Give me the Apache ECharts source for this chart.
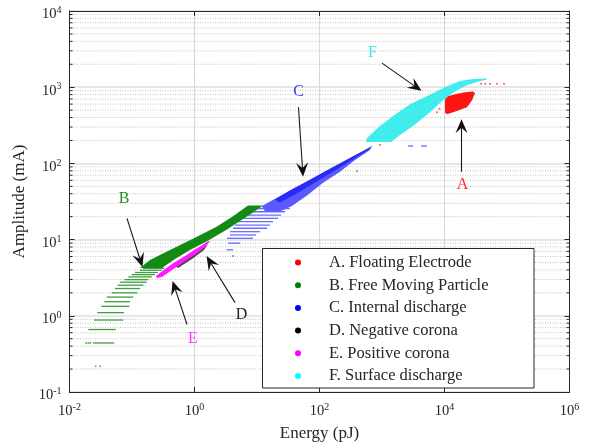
<!DOCTYPE html>
<html>
<head>
<meta charset="utf-8">
<script src="https://cdn.jsdelivr.net/npm/echarts@6/dist/echarts.min.js"></script>
<style>
  html, body { margin: 0; padding: 0; background: #ffffff; }
  #chart { width: 589px; height: 447px; }
</style>
</head>
<body>
<div id="chart"></div>
<script>
// ---- categories ----
const seriesNames = [
  'A. Floating Electrode',
  'B. Free Moving Particle',
  'C. Internal discharge',
  'D. Negative corona',
  'E. Positive corona',
  'F. Surface discharge'
];

// ---- axis ticks ----
const energyTicks = [1e-2, 1e0, 1e2, 1e4, 1e6];          // pJ
const amplitudeTicks = [1e-1, 1e0, 1e1, 1e2, 1e3, 1e4];  // mA
const amplitudeMinor = [
  0.2, 0.3, 0.4, 0.5, 0.6, 0.7, 0.8, 0.9,
  2, 3, 4, 5, 6, 7, 8, 9,
  20, 30, 40, 50, 60, 70, 80, 90,
  200, 300, 400, 500, 600, 700, 800, 900,
  2000, 3000, 4000, 5000, 6000, 7000, 8000, 9000
];

// ---- A. Floating electrode: dense cloud outline [energy, amplitude] + stray pulses ----
const floatingCloud = [
  [10190, 694], [10190, 470], [10960, 442], [15280, 484], [22910, 546], [27540, 673],
  [30760, 830], [28580, 881], [21280, 856], [14720, 806], [11380, 759]
];
const floatingStray = [
  [38400, 1110], [45000, 1110], [53500, 1110], [69000, 1110], [89500, 1110],
  [400, 79], [929, 176], [7590, 470], [8300, 520]
];

// ---- B. Free moving particle: quantised pulses [energyLow, amplitude, energyHigh] ----
const particleRows = [
  [0.0238, 0.44, 0.0521],
  [0.0200, 0.66, 0.0548],
  [0.0247, 0.88, 0.0726],
  [0.0279, 1.10, 0.0745],
  [0.0323, 1.33, 0.0906],
  [0.0361, 1.53, 0.0929],
  [0.0394, 1.76, 0.105],
  [0.0473, 2.00, 0.122],
  [0.0535, 2.28, 0.134],
  [0.0590, 2.52, 0.152],
  [0.0643, 2.76, 0.172],
  [0.0754, 2.98, 0.182],
  [0.0873, 3.24, 0.207],
  [0.0989, 3.47, 0.233],
  [0.112, 3.70, 0.260],
  [0.134, 3.96, 0.300],
  [0.150, 4.20, 0.330]
];
const particleBand = [
  [0.134, 4.25], [0.194, 5.39], [0.436, 7.50], [0.98, 10.4], [2.29, 14.9], [4.13, 20.2],
  [7.18, 28.0], [12.5, 28.0], [7.73, 21.4], [3.31, 13.6], [1.58, 9.49], [0.847, 7.28],
  [0.488, 5.56], [0.302, 4.25]
];
const particleSparse = [
  [0.0262, 0.218], [0.0310, 0.218], [0.0184, 0.44], [0.0200, 0.44], [0.0216, 0.44]
];

// ---- C. Internal discharge ----
const internalRows = [
  [3.28, 7.35, 4.18],
  [3.44, 8.98, 5.35],
  [3.31, 10.4, 8.63],
  [3.70, 11.5, 9.64],
  [3.70, 12.7, 11.2],
  [4.13, 14.1, 14.5],
  [4.45, 15.5, 16.1],
  [4.97, 17.2, 18.0],
  [5.75, 19.0, 21.7],
  [6.92, 21.0, 24.2],
  [7.73, 23.2, 28.1],
  [10.0, 25.6, 33.7],
  [2606, 169, 3133],
  [4207, 169, 5248]
];
const internalBand = [
  [12.0, 27.6], [33.7, 44.0], [70.5, 61.1], [147, 85.1], [308, 118], [535, 150], [692, 169],
  [643, 150], [370, 111], [213, 77.8], [114, 55.9], [63.1, 37.9], [36.3, 27.6], [23.3, 23.4],
  [13.4, 23.4]
];
const internalCore = [
  [19.4, 33.6], [33.7, 44.0], [70.5, 61.1], [147, 85.1], [308, 118], [535, 150], [692, 169],
  [597, 150], [331, 111], [164, 77.8], [78.7, 54.2], [40.6, 39.0], [23.3, 30.7]
];
const internalSparse = [[4.13, 6.1]];

// ---- D. Negative corona ----
const negativeBand = [
  [0.488, 4.51], [0.847, 5.90], [1.37, 7.73], [1.64, 8.71], [1.42, 7.28], [0.912, 5.56], [0.545, 4.25]
];

// ---- E. Positive corona ----
const positiveBand = [
  [0.242, 3.34], [0.337, 4.12], [0.488, 5.08], [0.705, 6.08], [0.982, 7.28], [1.32, 8.46],
  [1.64, 9.53], [1.77, 9.53], [1.47, 7.96], [1.06, 6.46], [0.705, 5.23], [0.437, 4.00],
  [0.302, 3.24], [0.251, 3.14]
];

// ---- F. Surface discharge ----
const surfaceBand = [
  [555, 191], [575, 215], [929, 309], [1500, 420], [2805, 597], [5190, 759], [10840, 1024],
  [17700, 1208], [28600, 1283], [47900, 1302], [47900, 1263], [30800, 1155], [22100, 1055],
  [14700, 881], [9460, 673], [5860, 470], [3130, 309], [1940, 236], [1390, 191]
];

// ---- letter call-outs: label position, arrow tail, arrow tip [energy, amplitude] ----
const calloutLetters = ['A', 'B', 'C', 'D', 'E', 'F'];
const calloutLabelAt = [[19410, 51.9], [0.0745, 34.6], [46.1, 868], [5.65, 1.04], [0.946, 0.505], [705, 2840]];
const calloutTail = [[18710, 77.8], [0.0832, 19.0], [46.1, 546], [4.45, 1.49], [0.759, 0.768], [1000, 2072]];
const calloutTip = [[18710, 381], [0.147, 4.37], [54.5, 66.9], [1.56, 6.08], [0.445, 2.87], [4285, 895]];

// ---- styling ----
const FONT = '"Liberation Serif", "Times New Roman", Times, serif';
const INK = '#262626';
const legendDot = ['#ff0000', '#008000', '#0000ff', '#000000', '#ff00ff', '#00ffff'];
const calloutColor = ['#ff2a2a', '#1f8f1f', '#3a3aff', '#222222', '#ff3aff', '#3fe6e6'];

const E_MIN = 1e-2, E_MAX = 1e6, A_MIN = 1e-1, A_MAX = 1e4;

function powLabel(v) {
  const e = Math.round(Math.log10(v));
  return '{b|10}{s|' + e + '}';
}
const richPow = {
  b: { fontFamily: FONT, fontSize: 14.5, color: INK, lineHeight: 18 },
  s: { fontFamily: FONT, fontSize: 10, color: INK, lineHeight: 10, verticalAlign: 'top' }
};

function polygonSeries(name, pts, color, z, opacity) {
  return {
    type: 'custom', name: name, z: z, silent: true,
    data: pts, encode: { x: 0, y: 1 },
    renderItem: function (params, api) {
      if (params.dataIndex !== 0) return null;
      return {
        type: 'polygon',
        shape: { points: pts.map(function (p) { return api.coord(p); }) },
        style: { fill: color, opacity: opacity == null ? 1 : opacity }
      };
    }
  };
}

function stripeSeries(name, rows, color, width, z) {
  return {
    type: 'custom', name: name, z: z, silent: true,
    data: rows, encode: { x: [0, 2], y: 1 },
    renderItem: function (params, api) {
      const a = api.coord([api.value(0), api.value(1)]);
      const b = api.coord([api.value(2), api.value(1)]);
      return {
        type: 'line',
        shape: { x1: a[0], y1: a[1], x2: b[0], y2: b[1] },
        style: { stroke: color, lineWidth: width }
      };
    }
  };
}

function dotSeries(name, pts, color, z) {
  return {
    type: 'scatter', name: name, z: z, silent: true, data: pts,
    symbolSize: 2, itemStyle: { color: color }
  };
}

const minorGrid = {
  type: 'custom', name: 'minor-grid', z: 1, silent: true,
  data: amplitudeMinor.map(function (v) { return [E_MIN, v]; }),
  encode: { x: 0, y: 1 },
  renderItem: function (params, api) {
    const v = api.value(1);
    const a = api.coord([E_MIN, v]);
    const b = api.coord([E_MAX, v]);
    return {
      type: 'group',
      children: [
        { type: 'line', shape: { x1: a[0] + 3, y1: a[1], x2: b[0] - 3, y2: b[1] },
          style: { stroke: '#c4c4c4', lineWidth: 1, lineDash: [1, 1.5] } },
        { type: 'line', shape: { x1: a[0], y1: a[1], x2: a[0] + 3, y2: a[1] },
          style: { stroke: INK, lineWidth: 1 } },
        { type: 'line', shape: { x1: b[0] - 3, y1: b[1], x2: b[0], y2: b[1] },
          style: { stroke: INK, lineWidth: 1 } }
      ]
    };
  }
};

const callouts = {
  type: 'custom', name: 'callouts', z: 30, silent: true,
  data: calloutTail, encode: { x: 0, y: 1 },
  renderItem: function (params, api) {
    const i = params.dataIndex;
    const t = api.coord(calloutTail[i]);
    const h = api.coord(calloutTip[i]);
    const l = api.coord(calloutLabelAt[i]);
    const dx = h[0] - t[0], dy = h[1] - t[1];
    const len = Math.sqrt(dx * dx + dy * dy);
    const ux = dx / len, uy = dy / len, nx = -uy, ny = ux;
    const L = 14, W = 12, N = 0.62 * L;
    const bx = h[0] - L * ux, by = h[1] - L * uy;
    const notch = [h[0] - N * ux, h[1] - N * uy];
    return {
      type: 'group',
      children: [
        { type: 'line', shape: { x1: t[0], y1: t[1], x2: notch[0], y2: notch[1] },
          style: { stroke: '#1a1a1a', lineWidth: 1.1 } },
        { type: 'polygon',
          shape: { points: [h, [bx + W / 2 * nx, by + W / 2 * ny], notch, [bx - W / 2 * nx, by - W / 2 * ny]] },
          style: { fill: '#111111' } },
        { type: 'text', x: l[0], y: l[1],
          style: { text: calloutLetters[i], fill: calloutColor[i], fontFamily: FONT, fontSize: 16,
                   align: 'center', verticalAlign: 'middle' } }
      ]
    };
  }
};

function xAxisDef(pos, labels) {
  return {
    type: 'log', logBase: 100, min: E_MIN, max: E_MAX, position: pos,
    axisLine: { show: true, onZero: false, lineStyle: { color: INK, width: 1 } },
    axisTick: { show: true, inside: true, length: 5, lineStyle: { color: INK } },
    axisLabel: labels ? { show: true, margin: 10, formatter: powLabel, rich: richPow } : { show: false },
    splitLine: { show: labels, lineStyle: { color: '#d8d8d8', width: 1 } },
    name: labels ? 'Energy (pJ)' : '',
    nameLocation: 'middle', nameGap: 33,
    nameTextStyle: { fontFamily: FONT, fontSize: 17, color: INK }
  };
}
function yAxisDef(pos, labels) {
  return {
    type: 'log', logBase: 10, min: A_MIN, max: A_MAX, position: pos,
    axisLine: { show: true, onZero: false, lineStyle: { color: INK, width: 1 } },
    axisTick: { show: true, inside: true, length: 5, lineStyle: { color: INK } },
    axisLabel: labels ? { show: true, margin: 8, formatter: powLabel, rich: richPow, padding: [7, 0, 0, 0] } : { show: false },
    splitLine: { show: labels, lineStyle: { color: '#dedede', width: 1.6 } },
    name: labels ? 'Amplitude (mA)' : '',
    nameLocation: 'middle', nameGap: 31, nameRotate: 90,
    nameTextStyle: { fontFamily: FONT, fontSize: 17, color: INK }
  };
}

const chart = echarts.init(document.getElementById('chart'), null, { renderer: 'canvas' });
chart.setOption({
  animation: false,
  backgroundColor: '#ffffff',
  grid: { left: 69.5, top: 11, width: 500, height: 384, containLabel: false },
  xAxis: [xAxisDef('bottom', true), xAxisDef('top', false)],
  yAxis: [yAxisDef('left', true), yAxisDef('right', false)],
  legend: {
    orient: 'vertical', left: 262.5, top: 248.5,
    padding: [5.5, 30, 3.5, 32.5],
    itemWidth: 6, itemHeight: 6, itemGap: 5.7,
    backgroundColor: '#ffffff', borderColor: INK, borderWidth: 1,
    selectedMode: false,
    textStyle: { fontFamily: FONT, fontSize: 16.5, color: INK, lineHeight: 17,
                 padding: [0, 0, 0, 23], width: 175 },
    data: seriesNames.map(function (n, i) {
      return { name: n, icon: 'circle', itemStyle: { color: legendDot[i] } };
    })
  },
  series: [
    minorGrid,
    polygonSeries(seriesNames[5], surfaceBand, '#40ecec', 3),
    stripeSeries(seriesNames[2], internalRows, '#6a6aff', 1.3, 4),
    polygonSeries(seriesNames[2], internalBand, '#5a5aff', 4),
    polygonSeries(seriesNames[2], internalCore, '#2a2af5', 5),
    dotSeries(seriesNames[2], internalSparse, '#5a5aff', 5),
    stripeSeries(seriesNames[1], particleRows, '#3f9f3f', 1.3, 6),
    polygonSeries(seriesNames[1], particleBand, '#138a13', 6),
    dotSeries(seriesNames[1], particleSparse, '#3f9f3f', 6),
    polygonSeries(seriesNames[3], negativeBand, '#2a2a2a', 7, 0.85),
    polygonSeries(seriesNames[4], positiveBand, '#ff1aff', 8),
    polygonSeries(seriesNames[0], floatingCloud, '#ff1414', 9),
    dotSeries(seriesNames[0], floatingStray, '#ff3030', 9),
    callouts
  ]
});
</script>
</body>
</html>
